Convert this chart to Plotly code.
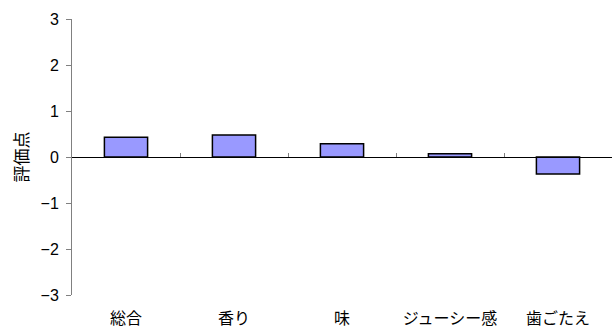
import plotly.graph_objects as go

categories = ["総合", "香り", "味", "ジューシー感", "歯ごたえ"]
values = [0.43, 0.48, 0.29, 0.07, -0.37]
y_ticks = [-3, -2, -1, 0, 1, 2, 3]
boundaries = [0.5, 1.5, 2.5, 3.5, 4.5]

fig = go.Figure()
fig.add_trace(go.Bar(
    x=categories, y=values, width=0.4,
    marker=dict(color="#9999FF", line=dict(color="#000000", width=1.5)),
    showlegend=False, hoverinfo="x+y",
))
# invisible trace to host the zero-line axis
fig.add_trace(go.Scatter(x=[-0.5, 4.5], y=[0, 0], xaxis="x2", mode="lines",
                         line=dict(width=0), showlegend=False, hoverinfo="skip"))

fig.update_layout(
    width=613, height=330,
    margin=dict(l=72, r=1, t=19, b=35),
    paper_bgcolor="white", plot_bgcolor="white",
    font=dict(family="Noto Sans CJK JP, Arial", color="#000000"),
    xaxis=dict(type="category", showline=False, ticks="", showgrid=False, zeroline=False,
               tickfont=dict(size=16, family="Noto Sans CJK JP"), range=[-0.5, 4.5],
               ticklabelstandoff=12),
    xaxis2=dict(overlaying="x", anchor="free", position=0.5, range=[-0.5, 4.5],
                showline=True, linecolor="#000000", linewidth=1,
                tickmode="array", tickvals=boundaries, ticks="inside", ticklen=4,
                tickcolor="#808080", tickwidth=1, showticklabels=False,
                showgrid=False, zeroline=False),
    yaxis=dict(range=[-3, 3], tickmode="array", tickvals=y_ticks, ticks="outside",
               ticklen=5, tickcolor="#808080", showline=True, linecolor="#808080",
               linewidth=1, showgrid=False, zeroline=False, ticklabelstandoff=4,
               tickfont=dict(size=16, family="Liberation Sans, Arial"),
               title=dict(text="評価点", font=dict(size=17, family="Noto Sans CJK JP"),
                          standoff=7)),
    bargap=0.6,
)

fig.write_html("out.html")
